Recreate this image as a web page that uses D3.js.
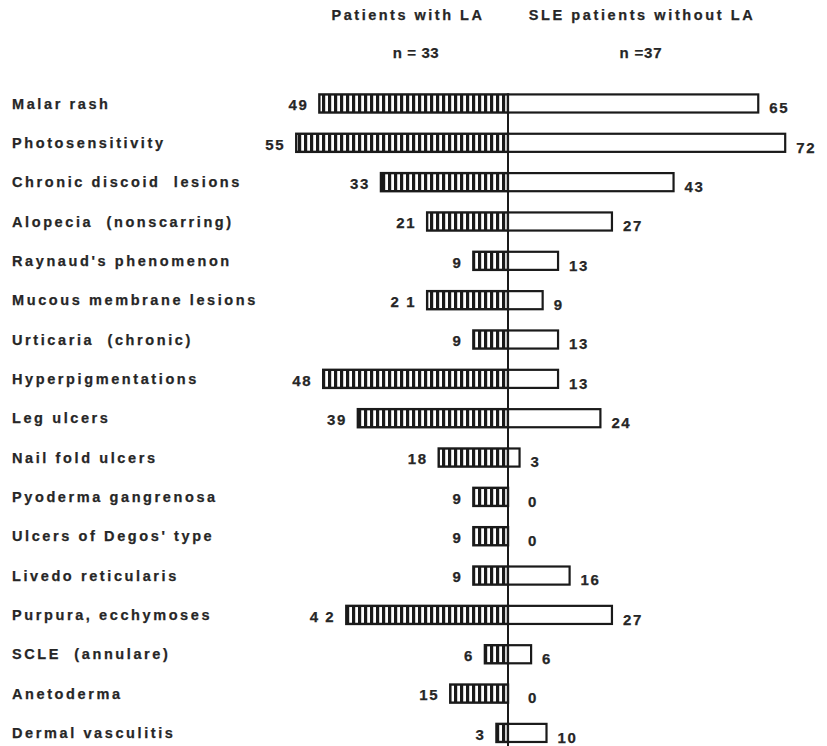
<!DOCTYPE html>
<html><head><meta charset="utf-8">
<script src="https://cdn.jsdelivr.net/npm/d3@7"></script>
<style>
html,body{margin:0;padding:0;background:#fff;}
text{font-family:"Liberation Sans",Arial,Helvetica,sans-serif;font-weight:bold;fill:#262626;stroke:#262626;stroke-width:0.25;}
</style></head>
<body>
<svg id="c" width="827" height="746"></svg>
<script>
const categories = ["Malar rash","Photosensitivity","Chronic discoid  lesions","Alopecia  (nonscarring)","Raynaud's phenomenon","Mucous membrane lesions","Urticaria  (chronic)","Hyperpigmentations","Leg ulcers","Nail fold ulcers","Pyoderma gangrenosa","Ulcers of Degos' type","Livedo reticularis","Purpura, ecchymoses","SCLE  (annulare)","Anetoderma","Dermal vasculitis"];
const withLA = [49,55,33,21,9,21,9,48,39,18,9,9,9,42,6,15,3];
const withoutLA = [65,72,43,27,13,9,13,13,24,3,0,0,16,27,6,0,10];
const withLALabels = ["49","55","33","21","9","2 1","9","48","39","18","9","9","9","4 2","6","15","3"];
const groupTitles = ["Patients with LA","SLE patients without LA"];
const groupN = ["n = 33","n =37"];

const svg = d3.select("#c");
const cx = 508;
const ppu = 3.85;
const xL = d3.scaleLinear().domain([0,100]).range([cx, cx-100*ppu]);
const xR = d3.scaleLinear().domain([0,100]).range([cx, cx+100*ppu]);
const y = d3.scaleBand().domain(categories).range([83.8, 752.6]).paddingInner(0.54).paddingOuter(0.27);

const defs = svg.append("defs");
const pat = defs.append("pattern").attr("id","hatch").attr("patternUnits","userSpaceOnUse")
  .attr("width",6).attr("height",20).attr("x",cx);
pat.append("rect").attr("width",6).attr("height",20).attr("fill","#fff");
pat.append("rect").attr("x",0).attr("width",3.2).attr("height",20).attr("fill","#1a1a1a");

// headers
svg.append("text").attr("x",408).attr("y",20).attr("text-anchor","middle").attr("font-size",14.5).attr("letter-spacing",2.5).text(groupTitles[0]);
svg.append("text").attr("x",642).attr("y",20).attr("text-anchor","middle").attr("font-size",14.5).attr("letter-spacing",2.6).text(groupTitles[1]);
svg.append("text").attr("x",416).attr("y",58).attr("text-anchor","middle").attr("font-size",15).attr("letter-spacing",0.6).style("white-space","pre").text(groupN[0]);
svg.append("text").attr("x",641).attr("y",58).attr("text-anchor","middle").attr("font-size",15).attr("letter-spacing",0.8).style("white-space","pre").text(groupN[1]);

const rows = svg.append("g").selectAll("g").data(categories).join("g");

// category labels
rows.append("text").attr("x",12).attr("y",d=>y(d)+y.bandwidth()/2).attr("dy","0.36em")
  .attr("font-size",14.5).attr("letter-spacing",2.6).style("white-space","pre").text(d=>d);

// left bars (hatched)
rows.append("rect").attr("x",(d,i)=>xL(withLA[i])).attr("y",d=>y(d))
  .attr("width",(d,i)=>cx-xL(withLA[i])).attr("height",y.bandwidth())
  .attr("fill","url(#hatch)").attr("stroke","#1a1a1a").attr("stroke-width",2.4);

// right bars (open)
rows.filter((d,i)=>withoutLA[i]>0).append("rect").attr("x",cx).attr("y",d=>y(d))
  .attr("width",d=>xR(withoutLA[categories.indexOf(d)])-cx).attr("height",y.bandwidth())
  .attr("fill","#fff").attr("stroke","#1a1a1a").attr("stroke-width",2.2);

// left values
rows.append("text").attr("x",(d,i)=>xL(withLA[i])-11).attr("y",d=>y(d)+y.bandwidth()/2+1).attr("dy","0.38em")
  .attr("text-anchor","end").attr("font-size",15).attr("letter-spacing",1.6).style("white-space","pre").text((d,i)=>withLALabels[i]);

// right values
rows.append("text").attr("x",(d,i)=>Math.max(xR(withoutLA[i])+11, cx+20)).attr("y",d=>y(d)+y.bandwidth()/2+4).attr("dy","0.38em")
  .attr("font-size",15).attr("letter-spacing",1.6).text((d,i)=>withoutLA[i]);

// central axis
svg.append("line").attr("x1",cx).attr("x2",cx).attr("y1",y(categories[0])).attr("y2",746)
  .attr("stroke","#1a1a1a").attr("stroke-width",2);
</script>
</body></html>
